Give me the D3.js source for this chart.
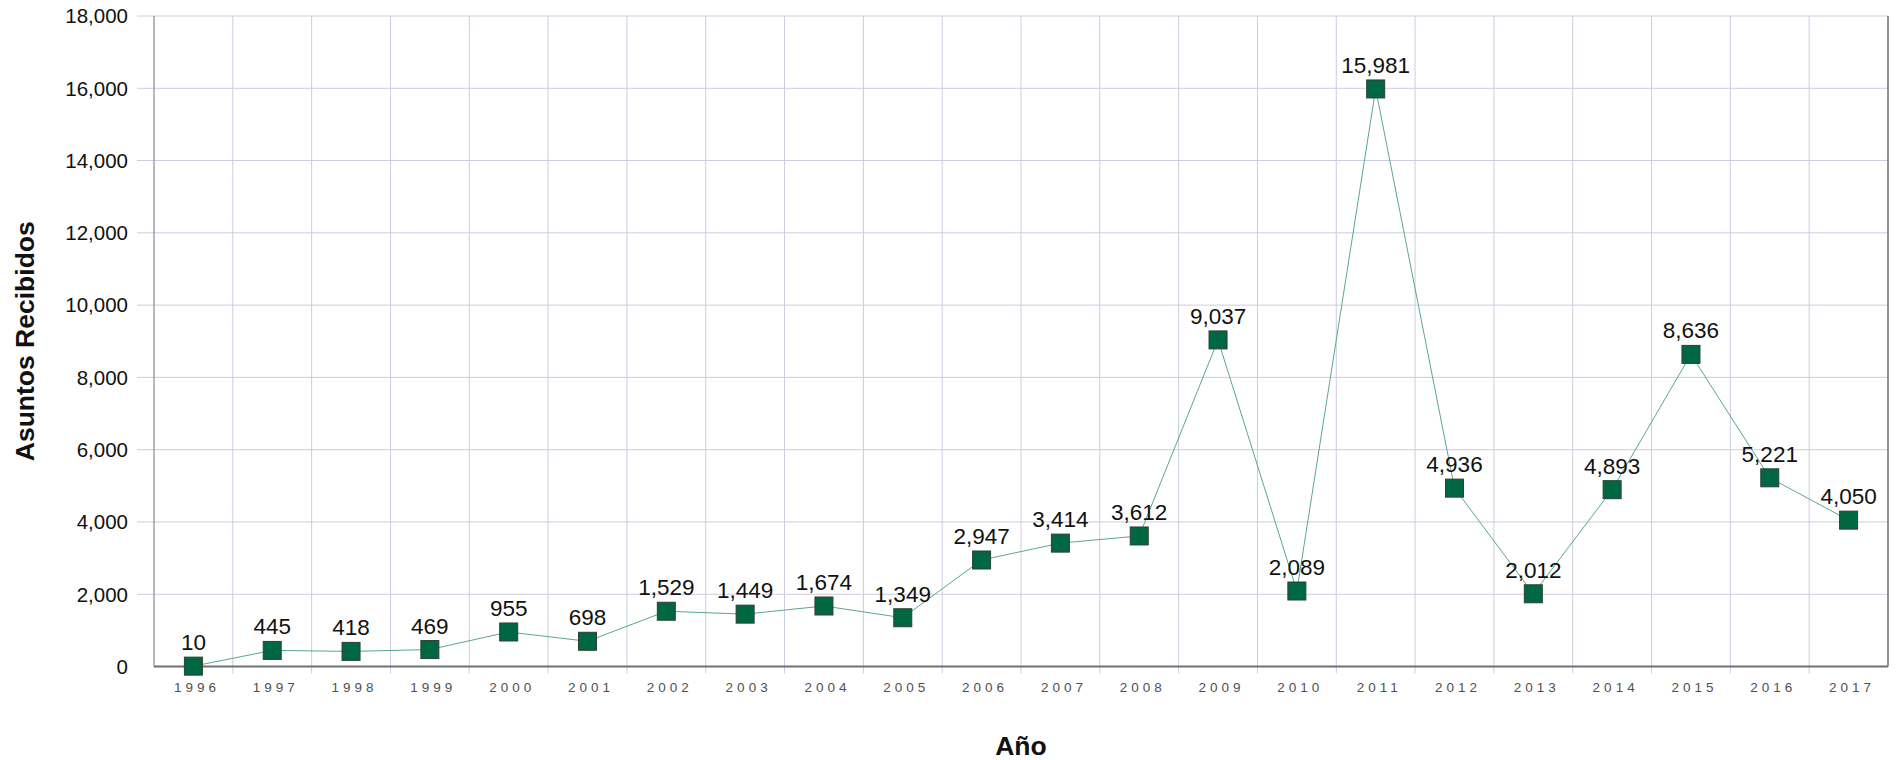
<!DOCTYPE html>
<html>
<head>
<meta charset="utf-8">
<script src="https://cdn.jsdelivr.net/npm/d3@7"></script>
<style>
  html, body { margin: 0; padding: 0; background: #fff; }
  svg { display: block; font-family: "Liberation Sans", Arial, sans-serif; }
</style>
</head>
<body>
<svg id="chart" width="1897" height="760"></svg>
<script>
const years = ["1996","1997","1998","1999","2000","2001","2002","2003","2004","2005","2006","2007","2008","2009","2010","2011","2012","2013","2014","2015","2016","2017"];
const received = [10,445,418,469,955,698,1529,1449,1674,1349,2947,3414,3612,9037,2089,15981,4936,2012,4893,8636,5221,4050];
const yTicks = [0,2000,4000,6000,8000,10000,12000,14000,16000,18000];
const xTitle = "Año";
const yTitle = "Asuntos Recibidos";

const data = years.map((y, i) => ({ year: y, value: received[i] }));

const margin = { left: 154, right: 9, top: 16, bottom: 93.5 };
const W = 1897, H = 760;
const svg = d3.select("#chart");

const x = d3.scaleBand().domain(years).range([margin.left, W - margin.right]).padding(0);
const y = d3.scaleLinear().domain([0, 18000]).range([H - margin.bottom, margin.top]);
const fmt = d3.format(",");

const g = svg.append("g");

// horizontal gridlines (extend left of the axis like ticks)
g.selectAll("line.hgrid").data(yTicks.filter(t => t > 0)).join("line")
  .attr("x1", margin.left - 17).attr("x2", W - margin.right)
  .attr("y1", d => y(d)).attr("y2", d => y(d))
  .attr("stroke", "#cdcbe0").attr("stroke-width", 1);

// vertical gridlines at band boundaries
g.selectAll("line.vgrid").data(years.slice(1)).join("line")
  .attr("x1", d => x(d)).attr("x2", d => x(d))
  .attr("y1", margin.top).attr("y2", H - margin.bottom + 7)
  .attr("stroke", "#cdcbe0").attr("stroke-width", 1);

// Y tick labels
g.selectAll("text.ytick").data(yTicks).join("text")
  .attr("x", 128).attr("y", d => y(d)).attr("dy", "0.36em")
  .attr("text-anchor", "end").attr("font-size", 20.5).attr("fill", "#111")
  .text(d => fmt(d));

// X tick labels
g.selectAll("text.xtick").data(years).join("text")
  .attr("x", d => x(d) + x.bandwidth() / 2 + 3.5).attr("y", H - margin.bottom + 21)
  .attr("dy", "0.36em")
  .attr("text-anchor", "middle").attr("font-size", 13.5).attr("letter-spacing", "4px")
  .attr("fill", "#505050")
  .text(d => d);

// axes lines
g.append("line").attr("x1", margin.left).attr("x2", margin.left)
  .attr("y1", margin.top).attr("y2", y(0)).attr("stroke", "#8a8a8a").attr("stroke-width", 1.2);
g.append("line").attr("x1", W - margin.right).attr("x2", W - margin.right)
  .attr("y1", margin.top).attr("y2", y(0)).attr("stroke", "#6e6e6e").attr("stroke-width", 1.5);
g.append("line").attr("x1", margin.left).attr("x2", W - margin.right)
  .attr("y1", y(0)).attr("y2", y(0)).attr("stroke", "#707070").attr("stroke-width", 1.8);

// series line
const line = d3.line().x(d => x(d.year) + x.bandwidth() / 2).y(d => y(d.value));
g.append("path").datum(data).attr("d", line)
  .attr("fill", "none").attr("stroke", "#5aa88b").attr("stroke-width", 1);

// markers
const ms = 18;
g.selectAll("rect.mk").data(data).join("rect")
  .attr("x", d => x(d.year) + x.bandwidth() / 2 - ms / 2)
  .attr("y", d => y(d.value) - ms / 2)
  .attr("width", ms).attr("height", ms)
  .attr("fill", "#006743").attr("stroke", "#2f3f36").attr("stroke-width", 1);

// value labels
g.selectAll("text.lbl").data(data).join("text")
  .attr("x", d => x(d.year) + x.bandwidth() / 2)
  .attr("y", d => y(d.value) - 16)
  .attr("text-anchor", "middle").attr("font-size", 22.5).attr("fill", "#111")
  .text(d => fmt(d.value));

// axis titles
svg.append("text")
  .attr("x", (margin.left + W - margin.right) / 2).attr("y", 755)
  .attr("text-anchor", "middle").attr("font-size", 26.5).attr("font-weight", "bold").attr("fill", "#111")
  .text(xTitle);
svg.append("text")
  .attr("transform", `translate(34,${(margin.top + y(0)) / 2}) rotate(-90)`)
  .attr("text-anchor", "middle").attr("font-size", 26.5).attr("font-weight", "bold").attr("fill", "#111")
  .text(yTitle);
</script>
</body>
</html>
